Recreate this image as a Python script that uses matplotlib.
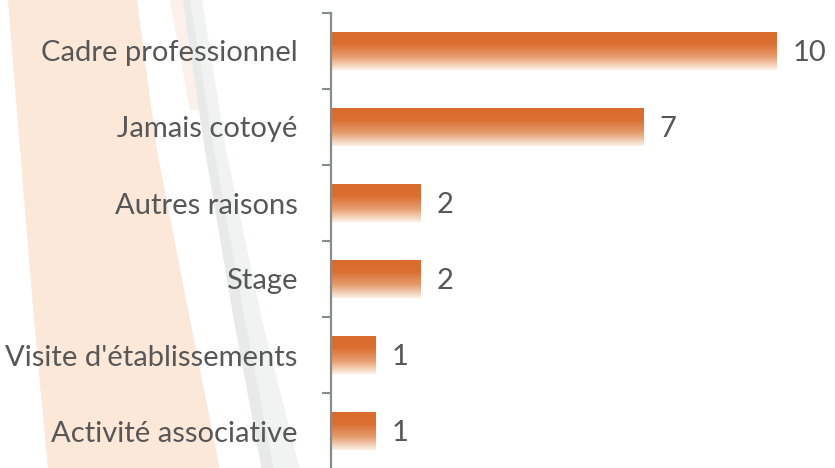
import numpy as np
import matplotlib
matplotlib.use("Agg")
import matplotlib.pyplot as plt
from matplotlib.patches import Polygon
from matplotlib.colors import LinearSegmentedColormap

categories = ["Cadre professionnel", "Jamais cotoyé", "Autres raisons",
              "Stage", "Visite d'établissements", "Activité associative"]
values = [10, 7, 2, 2, 1, 1]

W, H = 835, 468
fig = plt.figure(figsize=(W / 100, H / 100), dpi=100)
fig.patch.set_facecolor("white")

def fp(pts):
    return [(x / W, 1 - y / H) for x, y in pts]

# decorative background in its own axes
bg = fig.add_axes([0, 0, 1, 1], zorder=0)
bg.set_xlim(0, 1)
bg.set_ylim(0, 1)
bg.axis("off")
peach = fp([(8, 0), (20, 150), (34, 320), (48, 470), (220, 470), (190, 320), (157, 150), (137, 0)])
bg.add_patch(Polygon(peach, closed=True, facecolor="#FCE8D9", edgecolor="none"))
strip = fp([(170, 0), (190, 110), (205, 110), (183, 0)])
bg.add_patch(Polygon(strip, closed=True, facecolor="#FBF1EA", edgecolor="none"))
gray = fp([(183, 0), (205, 150), (234, 320), (262, 470), (300, 470), (262, 320), (226, 150), (202, 0)])
bg.add_patch(Polygon(gray, closed=True, facecolor="#F1F2F2", edgecolor="none"))
gray_edge = fp([(183, 0), (205, 150), (234, 320), (262, 470), (274, 470), (245, 320), (214, 150), (190, 0)])
bg.add_patch(Polygon(gray_edge, closed=True, facecolor="#E8E9E9", edgecolor="none"))

ax = fig.add_axes([331 / W, -1 / H, (W - 331) / W, 456 / H], zorder=2)
ax.set_facecolor("none")

n = len(categories)
ypos = np.arange(n)
bars = ax.barh(ypos, values, height=0.5, color="none", edgecolor="none")

cmap = LinearSegmentedColormap.from_list(
    "g", [(0, "#DB6B2D"), (0.3, "#DC6E31"), (0.65, "#E69C6E"), (1.0, "#FDF1E8")])
grad = np.linspace(0, 1, 256).reshape(-1, 1)
for b in bars:
    x0, y0 = b.get_x(), b.get_y()
    w, h = b.get_width(), b.get_height()
    im = ax.imshow(grad, cmap=cmap, aspect="auto",
                   extent=(x0, x0 + w, y0 + h, y0), origin="upper", zorder=2)
    im.set_clip_path(b)
ax.set_xlim(0, (W - 331) / 44.6)
ax.set_ylim(n - 0.5, -0.5)

fam = ["Lato", "DejaVu Sans"]
txtc = "#575757"
for yv, v in zip(ypos, values):
    ax.text(v + 0.36, yv + 0.03, str(v), va="center", ha="left",
            fontsize=21, color=txtc, family=fam)

for s in ["top", "right", "bottom"]:
    ax.spines[s].set_visible(False)
ax.spines["left"].set_color("#8A8C8C")
ax.spines["left"].set_linewidth(1.6)
ax.set_xticks([])
ax.set_yticks(np.arange(-0.5, n, 1.0))
ax.set_yticklabels([])
ax.tick_params(axis="y", which="major", length=6.5, width=1.5, color="#8A8C8C")
ax.set_yticks(ypos, minor=True)
ax.set_yticklabels(categories, minor=True, fontsize=21, color=txtc, family=fam)
ax.tick_params(axis="y", which="minor", length=0, pad=24)

fig.savefig("out.png", dpi=100)
